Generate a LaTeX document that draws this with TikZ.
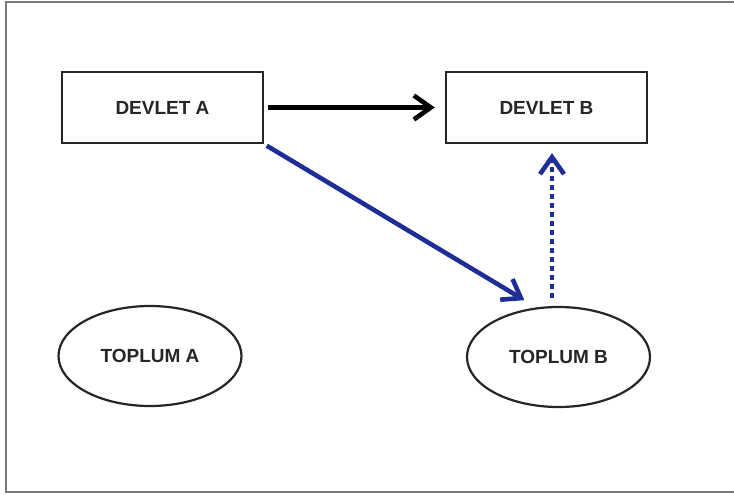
\documentclass[tikz,border=0pt]{standalone}
\usepackage{fontspec}
\setmainfont{Liberation Sans}
\usepackage{tikz}
\usetikzlibrary{positioning}
\usetikzlibrary{shapes.geometric}
\usetikzlibrary{arrows.meta}

\definecolor{navyblue}{RGB}{30,46,150}
\definecolor{framegray}{RGB}{120,120,120}

\tikzset{
  state/.style={draw=black!85,line width=2.3pt,rectangle,minimum width=201pt,minimum height=71pt,
    font=\fontsize{19}{22}\selectfont\bfseries,text=black!85,inner sep=0pt},
  society/.style={draw=black!85,line width=2.2pt,ellipse,minimum width=183pt,minimum height=100pt,
    font=\fontsize{19}{22}\selectfont\bfseries,text=black!85,inner sep=0pt},
  link/.style={line width=4.6pt,-{Straight Barb[length=17pt,width=24pt]}},
  dottedlink/.style={link,dash pattern=on 5pt off 4pt},
  frame/.style={draw=framegray,line width=2.4pt}
}

\begin{document}
\begin{tikzpicture}[x=1pt,y=1pt]
\useasboundingbox (0,0) rectangle (734,-495);
\draw[frame] (734,-2) -- (6,-2) -- (6,-492) -- (734,-492);

\node[state] (devA) at (162.5,-107.5) {DEVLET A};
\node[state] (devB) at (546.5,-107.5) {DEVLET B};

\node[society] (topA) at (150,-356) {TOPLUM A};
\node[society] (topB) at (558.5,-357) {TOPLUM B};

\draw[link,black,shorten <=4pt,shorten >=10pt] (devA.east) -- (devB.west);
\draw[link,navyblue,shorten <=3pt,shorten >=14pt] (devA.south east) -- (topB.114);
\draw[dottedlink,navyblue,shorten <=8pt,shorten >=9pt] ([xshift=-6.5pt]topB.north) -- ([xshift=5.5pt]devB.south);
\end{tikzpicture}
\end{document}
